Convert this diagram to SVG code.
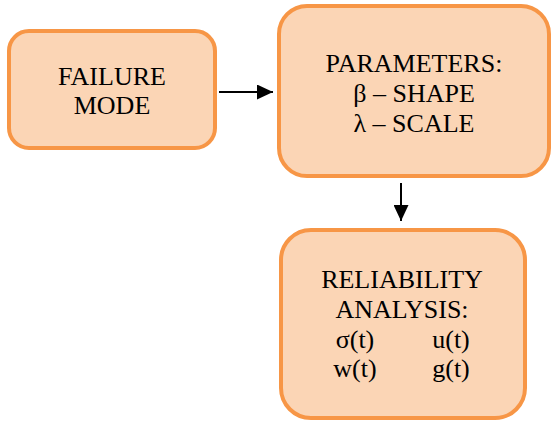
<svg xmlns="http://www.w3.org/2000/svg" width="551" height="421" viewBox="0 0 551 421">
<style>
.box{fill:#FBD5B5;stroke:#F79646;stroke-width:4}
.t{font-size:26px;fill:#000;text-anchor:middle}
.c{stroke:#000;stroke-width:2;fill:none}
</style>
<defs>
<marker id="ah" viewBox="0 0 10 10" refX="10" refY="5" markerWidth="8" markerHeight="7.5" orient="auto" markerUnits="strokeWidth" preserveAspectRatio="none">
<path d="M0,0 L10,5 L0,10 z" fill="#000"/>
</marker>
</defs>
<rect width="551" height="421" fill="#fff"/>
<g font-family="'Liberation Serif', 'DejaVu Serif', 'Times New Roman', Times, serif">
<g id="failure-mode">
<rect class="box" x="9" y="31" width="206" height="117" rx="20"/>
<text class="t" x="112" y="85">FAILURE</text>
<text class="t" x="112" y="114">MODE</text>
</g>
<g id="parameters">
<rect class="box" x="279" y="6" width="270" height="170" rx="28"/>
<text class="t" x="414" y="72">PARAMETERS:</text>
<text class="t" x="414" y="102">β – SHAPE</text>
<text class="t" x="414" y="132">λ – SCALE</text>
</g>
<g id="reliability-analysis">
<rect class="box" x="281" y="230" width="244" height="188" rx="30"/>
<text class="t" x="402" y="288">RELIABILITY</text>
<text class="t" x="402" y="318">ANALYSIS:</text>
<text class="t" x="355" y="348">σ(t)</text>
<text class="t" x="451" y="348">u(t)</text>
<text class="t" x="355" y="377">w(t)</text>
<text class="t" x="451" y="377">g(t)</text>
</g>
</g>
<g id="connectors">
<line class="c" x1="219" y1="92" x2="273" y2="92" marker-end="url(#ah)"/>
<line class="c" x1="401" y1="183" x2="401" y2="221" marker-end="url(#ah)"/>
</g>
</svg>
